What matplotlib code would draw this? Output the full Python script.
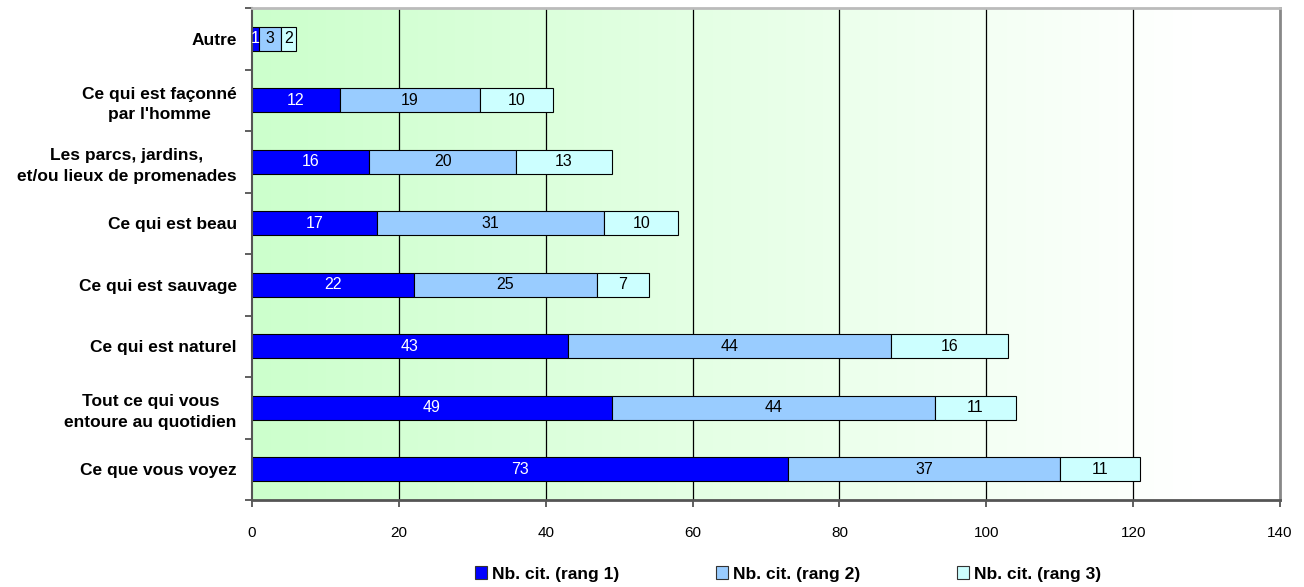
import matplotlib
matplotlib.use("Agg")
import matplotlib.pyplot as plt
import numpy as np
from matplotlib.patches import Patch

plt.rcParams['font.family'] = ['Liberation Sans', 'DejaVu Sans']

categories = [
    "Autre",
    "Ce qui est façonné\npar l'homme",
    "Les parcs, jardins,\net/ou lieux de promenades",
    "Ce qui est beau",
    "Ce qui est sauvage",
    "Ce qui est naturel",
    "Tout ce qui vous\nentoure au quotidien",
    "Ce que vous voyez",
]
rang1 = [1, 12, 16, 17, 22, 43, 49, 73]
rang2 = [3, 19, 20, 31, 25, 44, 44, 37]
rang3 = [2, 10, 13, 10, 7, 16, 11, 11]
series_names = ["Nb. cit. (rang 1)", "Nb. cit. (rang 2)", "Nb. cit. (rang 3)"]
series_colors = ["#0000FF", "#99CCFF", "#CCFFFF"]
label_colors = ["white", "black", "black"]
xticks = [0, 20, 40, 60, 80, 100, 120, 140]

W, H = 1304, 587
fig = plt.figure(figsize=(W / 100, H / 100), dpi=100)
ax = fig.add_axes([252 / W, 1 - 500 / H, (1280 - 252) / W, (500 - 8) / H])

n = len(categories)
ax.set_xlim(0, 140)
ax.set_ylim(n - 0.5, -0.5)

# background gradient
xs = np.linspace(0, 140, 600)
t = np.clip(xs / 128.0, 0, 1)
c0 = np.array([204, 255, 204]) / 255.0
c1 = np.array([255, 255, 255]) / 255.0
grad = (c0[None, :] * (1 - t[:, None]) + c1[None, :] * t[:, None])[None, :, :]
ax.imshow(grad, extent=(0, 140, n - 0.5, -0.5), aspect='auto', zorder=0, interpolation='bilinear')

# gridlines
for xv in xticks[1:-1]:
    ax.axvline(xv, color='black', lw=0.9, zorder=1)

y = np.arange(n)
left = np.zeros(n)
for vals, col, lc in zip([rang1, rang2, rang3], series_colors, label_colors):
    vals = np.array(vals, dtype=float)
    ax.barh(y, vals, left=left, height=0.39, color=col, edgecolor='black', linewidth=0.8, zorder=2)
    for yi, (l, v) in enumerate(zip(left, vals)):
        ax.text(l + v / 2, yi, f"{int(v)}", ha='center', va='center', color=lc, fontsize=11.5, zorder=3)
    left = left + vals

ax.set_xticks(xticks)
ax.set_xticklabels([str(v) for v in xticks], fontsize=11)
ax.set_yticks(np.arange(n + 1) - 0.5, minor=False)
ax.set_yticklabels([])
ax.set_yticks(y, minor=True)
ax.set_yticklabels(categories, minor=True, fontsize=12.5, fontweight='bold',
                   multialignment='center', linespacing=1.45)
ax.tick_params(axis='y', which='minor', length=0, pad=11)
ax.tick_params(axis='y', which='major', length=5, width=1.2, color='#444444')
ax.tick_params(axis='x', length=5, width=1.2, color='#444444', pad=14)

ax.spines['bottom'].set_color('#555555')
ax.spines['bottom'].set_linewidth(2)
ax.spines['left'].set_color('#555555')
ax.spines['left'].set_linewidth(1.5)
ax.spines['top'].set_color('#BBBBBB')
ax.spines['top'].set_linewidth(2)
ax.spines['right'].set_color('#888888')
ax.spines['right'].set_linewidth(2)

handles = [Patch(facecolor=c, edgecolor='#333333', linewidth=0.8) for c in series_colors]
leg = fig.legend(handles, series_names, loc='center', bbox_to_anchor=(788 / W, 1 - 574 / H),
                 ncol=3, frameon=False, prop={'weight': 'bold', 'size': 12.5},
                 handlelength=0.7, handleheight=0.7, handletextpad=0.25, columnspacing=5.6)

fig.savefig("out.png", dpi=100)
